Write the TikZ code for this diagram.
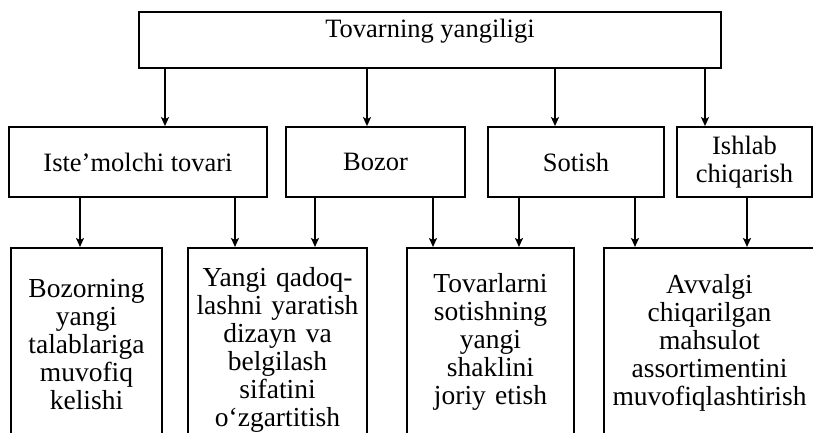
\documentclass[tikz,border=0pt]{standalone}
\usepackage{fontspec}
\setmainfont{Liberation Serif}
\usetikzlibrary{arrows.meta}
\begin{document}
\begin{tikzpicture}[x=1pt,y=-1pt,
  box/.style={draw, line width=1.8pt, inner sep=0pt},
  rowbox/.style={box, minimum height=70pt, font=\fontsize{26.5}{28}\selectfont, align=center},
  leaf/.style={box, anchor=north, font=\fontsize{27.5}{28}\selectfont, align=center, text depth=250pt},
  arr/.style={line width=1.8pt, -{Stealth[length=9pt,width=8pt,inset=2pt]}}]
\useasboundingbox[fill=white] (0,0) rectangle (813,432);
\node[box, minimum width=582pt, font=\fontsize{26.5}{28}\selectfont, text height=25pt, text depth=31pt] (top) at (430,40) {Tovarning yangiligi};
\node[rowbox, minimum width=258pt] (r1) at (138,162) {Iste’molchi tovari};
\node[rowbox, minimum width=179pt] (r2) at (375.5,162) {Bozor};
\node[rowbox, minimum width=176pt] (r3) at (576,162) {Sotish};
\node[rowbox, minimum width=135pt] (r4) at (744.5,162) {Ishlab\\chiqarish};
\node[leaf, text width=151pt, text height=50pt] (l1) at (86.5,247) {Bozorning\\yangi\\talablariga\\muvofiq\\kelishi};
\node[leaf, text width=179pt, text height=39pt] (l2) at (277.5,247) {Yangi qadoq-\\lashni yaratish\\dizayn va\\belgilash\\sifatini\\o‘zgartitish};
\node[leaf, text width=167pt, text height=45pt] (l3) at (490.5,247) {Tovarlarni\\sotishning\\yangi\\shaklini\\joriy etish};
\node[leaf, text width=211pt, text height=46pt] (l4) at (709.5,247) {Avvalgi\\chiqarilgan\\mahsulot\\assortimentini\\muvofiqlashtirish};
\coordinate (x1) at (165,0);
\coordinate (x2) at (367,0);
\coordinate (x3) at (555,0);
\coordinate (x4) at (705,0);
\coordinate (y1) at (80,0);
\coordinate (y2) at (235,0);
\coordinate (y3) at (315,0);
\coordinate (y4) at (433,0);
\coordinate (y5) at (519,0);
\coordinate (y6) at (635,0);
\coordinate (y7) at (747,0);
\draw[arr] (top.south -| x1) -- (r1.north -| x1);
\draw[arr] (top.south -| x2) -- (r2.north -| x2);
\draw[arr] (top.south -| x3) -- (r3.north -| x3);
\draw[arr] (top.south -| x4) -- (r4.north -| x4);
\draw[arr] (r1.south -| y1) -- (l1.north -| y1);
\draw[arr] (r1.south -| y2) -- (l2.north -| y2);
\draw[arr] (r2.south -| y3) -- (l2.north -| y3);
\draw[arr] (r2.south -| y4) -- (l3.north -| y4);
\draw[arr] (r3.south -| y5) -- (l3.north -| y5);
\draw[arr] (r3.south -| y6) -- (l4.north -| y6);
\draw[arr] (r4.south -| y7) -- (l4.north -| y7);
\end{tikzpicture}
\end{document}
